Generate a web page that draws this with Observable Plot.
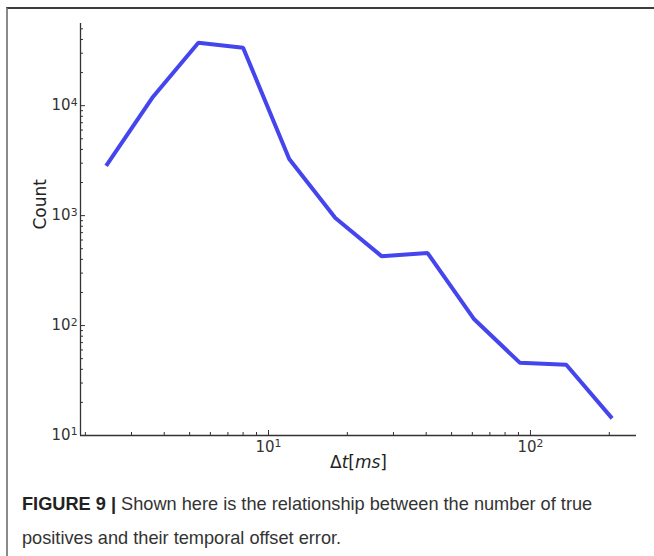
<!DOCTYPE html>
<html>
<head>
<meta charset="utf-8">
<script src="https://cdn.jsdelivr.net/npm/d3@7"></script>
<script src="https://cdn.jsdelivr.net/npm/@observablehq/plot@0.6"></script>
<style>
  html, body { margin: 0; padding: 0; background: #fff; width: 654px; height: 556px; overflow: hidden; }
  #frame { position: absolute; left: 6px; top: 7px; width: 648px; height: 549px;
           border-top: 2px solid #3c3c3c; border-left: 2px solid #8a8a8a; box-sizing: border-box; }
  #chart { position: absolute; left: 0; top: 0; }
  #caption { position: absolute; left: 14px; top: 478px; width: 620px;
             font-family: "Liberation Sans", Arial, sans-serif; font-size: 18.2px; line-height: 34px; color: #333; }
  #caption div { white-space: nowrap; }
  #caption b { color: #222; margin-right: 5px; }
</style>
</head>
<body>
<div id="frame">
  <div id="chart"></div>
  <div id="caption">
    <div><b>FIGURE 9 |</b><span>Shown here is the relationship between the number of true</span></div>
    <div><span>positives and their temporal offset error.</span></div>
  </div>
</div>
<script>
const dt = [2.4, 3.6, 5.4, 8.0, 12, 18, 27, 40.5, 61, 91, 137, 205];
const count = [2830, 11800, 37400, 33700, 3280, 950, 428, 456, 114, 46, 44, 14.3];
const xMajor = [10, 100];
const xMinor = [2, 3, 4, 5, 6, 7, 8, 9, 20, 30, 40, 50, 60, 70, 80, 90, 200];
const yMajor = [10, 100, 1000, 10000];
const yMinor = [20, 30, 40, 50, 60, 70, 80, 90, 200, 300, 400, 500, 600, 700, 800, 900,
                2000, 3000, 4000, 5000, 6000, 7000, 8000, 9000, 20000, 30000, 40000, 50000];
const xDomain = [1.916, 254];
const yDomain = [10, 55900];
const fmt = d => "10^" + Math.round(Math.log10(d));

const data = dt.map((x, i) => ({x, y: count[i]}));

const chart = Plot.plot({
  width: 646,
  height: 470,
  marginLeft: 72,
  marginRight: 18,
  marginTop: 14,
  marginBottom: 44,
  style: {fontFamily: "DejaVu Sans", fontSize: "14px", color: "#333", background: "transparent"},
  x: {type: "log", domain: xDomain},
  y: {type: "log", domain: yDomain},
  marks: [
    Plot.axisX(xMajor, {tickSize: -5, tickFormat: fmt, tickPadding: 11, stroke: "#333", fill: "#333", fontSize: 15, label: null}),
    Plot.axisX(xMinor, {tickSize: -3, tickFormat: () => "", stroke: "#333", label: null}),
    Plot.axisY(yMajor, {tickSize: -5, tickFormat: fmt, tickPadding: 8, stroke: "#333", fill: "#333", fontSize: 15, label: null}),
    Plot.axisY(yMinor, {tickSize: -3, tickFormat: () => "", stroke: "#333", label: null}),
    Plot.ruleX([xDomain[0]], {stroke: "#333", strokeWidth: 1.3}),
    Plot.ruleY([yDomain[0]], {stroke: "#333", strokeWidth: 1.3}),
    Plot.line(data, {x: "x", y: "y", stroke: "#4545ee", strokeWidth: 4, strokeLinejoin: "miter", strokeLinecap: "butt"}),
    Plot.text(["Count"], {frameAnchor: "left", dx: -40, rotate: -90, fontSize: 17, fill: "#222"}),
    Plot.text(["Δt[ms]"], {frameAnchor: "bottom", dy: 32, fontSize: 17, fill: "#222"})
  ]
});

// render "10^n" as 10 with a superscript, and italicise t and ms (math text style)
d3.select(chart).selectAll("text").each(function() {
  const el = d3.select(this);
  const t = this.textContent;
  const m = /^10\^(\d)$/.exec(t);
  if (m) {
    el.text(null);
    el.append("tspan").text("10");
    el.append("tspan").attr("dy", "-0.45em").attr("font-size", "0.72em").text(m[1]);
  } else if (t === "Δt[ms]") {
    el.text(null);
    el.append("tspan").text("Δ");
    el.append("tspan").attr("font-style", "italic").text("t");
    el.append("tspan").text("[");
    el.append("tspan").attr("font-style", "italic").text("ms");
    el.append("tspan").text("]");
  }
});
document.getElementById("chart").appendChild(chart);
</script>
</body>
</html>
